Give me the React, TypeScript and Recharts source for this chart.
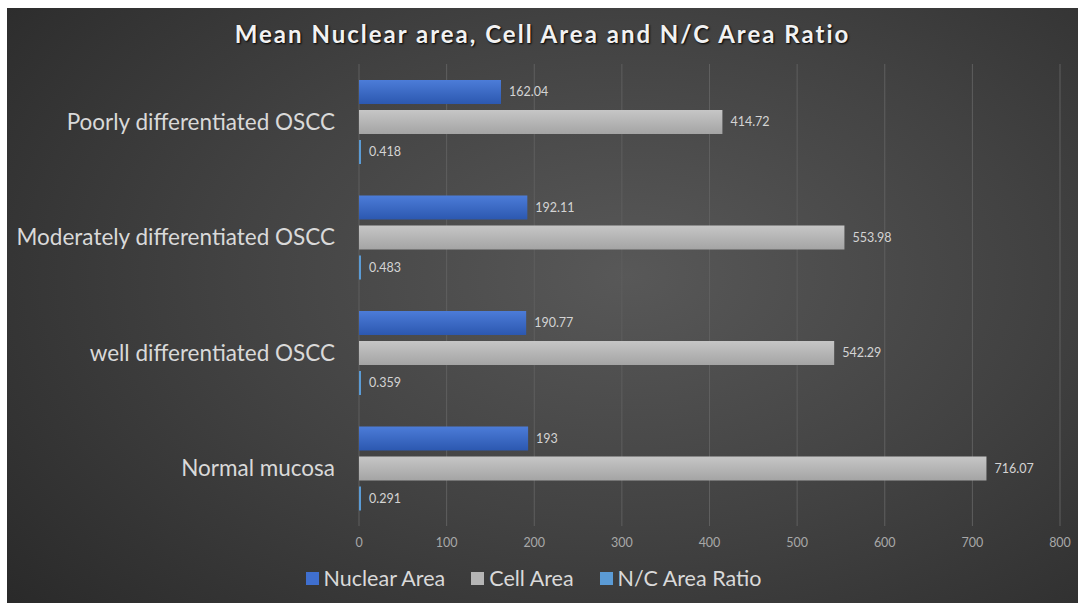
import React from 'react';
import {
  BarChart,
  Bar,
  XAxis,
  YAxis,
  CartesianGrid,
  Legend,
  LabelList,
} from 'recharts';

// display order, top to bottom
const CATEGORIES = [
  'Poorly differentiated OSCC',
  'Moderately differentiated OSCC',
  'well differentiated OSCC',
  'Normal mucosa',
];
const NUCLEAR_AREA = [162.04, 192.11, 190.77, 193];
const CELL_AREA = [414.72, 553.98, 542.29, 716.07];
const NC_RATIO = [0.418, 0.483, 0.359, 0.291];
const X_TICKS = [0, 100, 200, 300, 400, 500, 600, 700, 800];

const SERIES = [
  { key: 'nuclear', name: 'Nuclear Area', fill: 'url(#gradNuclear)', swatch: '#3f6fcf' },
  { key: 'cell', name: 'Cell Area', fill: 'url(#gradCell)', swatch: '#b5b5b5' },
  { key: 'ratio', name: 'N/C Area Ratio', fill: '#5b9bd5', swatch: '#5b9bd5' },
];

const data = CATEGORIES.map((name, i) => ({
  name,
  nuclear: NUCLEAR_AREA[i],
  cell: CELL_AREA[i],
  ratio: NC_RATIO[i],
}));

const FONT = 'Lato, "Open Sans", sans-serif';

const LegendContent: React.FC = () => (
  <div style={styles.legend}>
    {SERIES.map((s) => (
      <div key={s.key} style={styles.legendItem}>
        <span style={{ ...styles.swatch, backgroundColor: s.swatch }} />
        <span>{s.name}</span>
      </div>
    ))}
  </div>
);

const App: React.FC = () => {
  return (
    <div style={styles.panel}>
      <div style={styles.title}>Mean Nuclear area, Cell Area and N/C Area Ratio</div>
      <BarChart
        width={1071}
        height={595}
        data={data}
        layout="vertical"
        margin={{ top: 56, right: 18, bottom: 0, left: 0 }}
        barCategoryGap={15}
        barGap={6}
      >
        <defs>
          <linearGradient id="gradNuclear" x1="0" y1="0" x2="0" y2="1">
            <stop offset="0%" stopColor="#4c7cd8" />
            <stop offset="100%" stopColor="#2c58b0" />
          </linearGradient>
          <linearGradient id="gradCell" x1="0" y1="0" x2="0" y2="1">
            <stop offset="0%" stopColor="#c6c6c6" />
            <stop offset="100%" stopColor="#a4a4a4" />
          </linearGradient>
        </defs>
        <CartesianGrid horizontal={false} stroke="#5f5f5f" />
        <XAxis
          type="number"
          domain={[0, 800]}
          ticks={X_TICKS}
          axisLine={false}
          tickLine={false}
          tickMargin={6}
          height={28}
          tick={{ fill: '#a8a8a8', fontSize: 12.5, fontFamily: FONT }}
        />
        <YAxis
          type="category"
          dataKey="name"
          width={352}
          axisLine={false}
          tickLine={false}
          tickMargin={18}
          tick={{ fill: '#d9d9d9', fontSize: 22.5, fontFamily: FONT }}
        />
        <Legend verticalAlign="bottom" height={49} content={<LegendContent />} />
        {SERIES.map((s) => (
          <Bar
            key={s.key}
            dataKey={s.key}
            name={s.name}
            fill={s.fill}
            barSize={24}
            minPointSize={2}
            isAnimationActive={false}
          >
            <LabelList
              dataKey={s.key}
              position="right"
              offset={8}
              fill="#d4d4d4"
              fontSize={12.5}
              fontFamily={FONT}
            />
          </Bar>
        ))}
      </BarChart>
    </div>
  );
};

const styles: Record<string, React.CSSProperties> = {
  panel: {
    position: 'absolute',
    left: 7,
    top: 8,
    width: 1071,
    height: 595,
    background:
      'radial-gradient(ellipse 75% 85% at 58% 45%, #585858 0%, #424242 50%, #2a2a2a 100%)',
    fontFamily: FONT,
    overflow: 'hidden',
  },
  title: {
    position: 'absolute',
    top: 11,
    left: 0,
    width: '100%',
    textAlign: 'center',
    color: '#f2f2f2',
    fontSize: 24,
    fontWeight: 700,
    letterSpacing: 2,
    textShadow: '1px 1px 2px #000',
  },
  legend: {
    display: 'flex',
    justifyContent: 'center',
    alignItems: 'center',
    gap: 26,
    color: '#d9d9d9',
    fontSize: 21.5,
    fontFamily: FONT,
    paddingTop: 11,
    marginLeft: 0,
  },
  legendItem: {
    display: 'flex',
    alignItems: 'center',
    gap: 5,
  },
  swatch: {
    display: 'inline-block',
    width: 13,
    height: 13,
  },
};

export default App;
